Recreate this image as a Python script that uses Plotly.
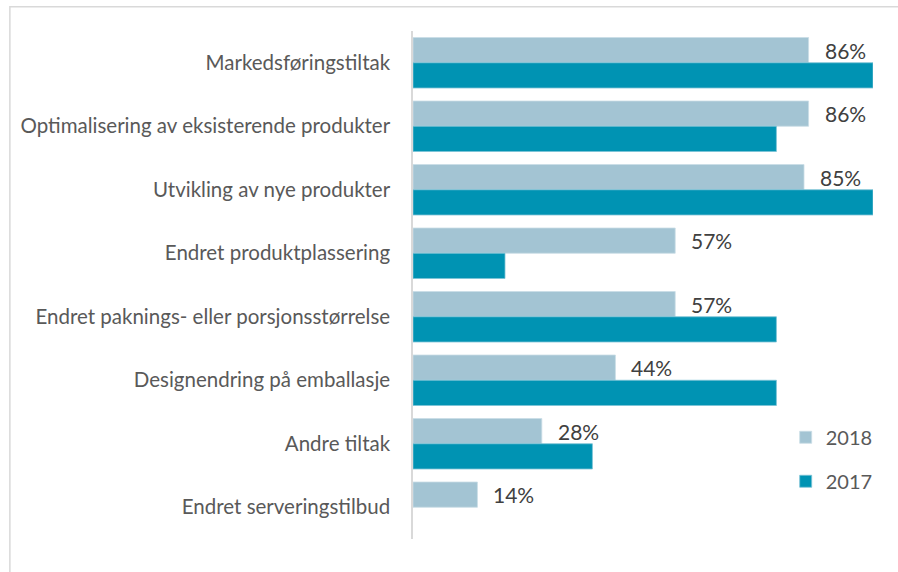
import plotly.graph_objects as go

categories = [
    "Markedsføringstiltak",
    "Optimalisering av eksisterende produkter",
    "Utvikling av nye produkter",
    "Endret produktplassering",
    "Endret paknings- eller porsjonsstørrelse",
    "Designendring på emballasje",
    "Andre tiltak",
    "Endret serveringstilbud",
]
values_2018 = [86, 86, 85, 57, 57, 44, 28, 14]
values_2017 = [100, 79, 100, 20, 79, 79, 39, None]
labels_2018 = ["86%", "86%", "85%", "57%", "57%", "44%", "28%", "14%"]

C2018 = "#a3c4d3"
C2017 = "#0093b3"
FONT = "Lato"

W, H = 898, 572
L, R, T, B = 412.5, 24.5, 30.75, 33.25
pw, ph = W - L - R, H - T - B

fig = go.Figure()
fig.add_trace(go.Bar(
    y=categories, x=values_2018, name="2018", orientation="h",
    marker=dict(color=C2018, line=dict(color="#c9dde6", width=0.8)),
    legend="legend",
))
fig.add_trace(go.Bar(
    y=categories, x=values_2017, name="2017", orientation="h",
    marker=dict(color=C2017, line=dict(color="#7cc3d6", width=0.8)),
    legend="legend2",
))

bargap = 0.205
off = (1 - bargap) / 4
for i, (v, t) in enumerate(zip(values_2018, labels_2018)):
    fig.add_annotation(
        x=v, y=i - off, text=t, showarrow=False, xanchor="left",
        xshift=14, font=dict(family=FONT, size=21, color="#404040"),
    )

def px_x(px):
    return (px - L) / pw

def px_y(py):
    return (H - B - py) / ph

fig.add_shape(type="rect", xref="paper", yref="paper",
              x0=px_x(8.5), x1=px_x(W + 20), y0=px_y(H + 20), y1=px_y(6.5),
              line=dict(color="#d9d9d9", width=1.5), fillcolor="rgba(0,0,0,0)",
              layer="below")

fig.update_layout(
    width=W, height=H,
    margin=dict(l=L, r=R, t=T, b=B, pad=0),
    barmode="group", bargap=bargap, bargroupgap=0,
    plot_bgcolor="white", paper_bgcolor="white",
    font=dict(family=FONT, size=20, color="#595959"),
    xaxis=dict(range=[0, 100], visible=False, fixedrange=True),
    yaxis=dict(autorange="reversed", showline=True, linecolor="#d9d9d9",
               linewidth=1.5, ticks="", showgrid=False, ticklabelstandoff=17,
               tickfont=dict(family=FONT, size=20.5, color="#595959")),
    legend=dict(x=px_x(786), y=px_y(437), xanchor="left", yanchor="middle",
                font=dict(family=FONT, size=20, color="#595959"),
                bgcolor="rgba(0,0,0,0)"),
    legend2=dict(x=px_x(786), y=px_y(481), xanchor="left", yanchor="middle",
                 font=dict(family=FONT, size=20, color="#595959"),
                 bgcolor="rgba(0,0,0,0)"),
    showlegend=True,
)

fig.write_html("out.html", config={"displayModeBar": False},
               post_script="document.body.style.margin='0';")
